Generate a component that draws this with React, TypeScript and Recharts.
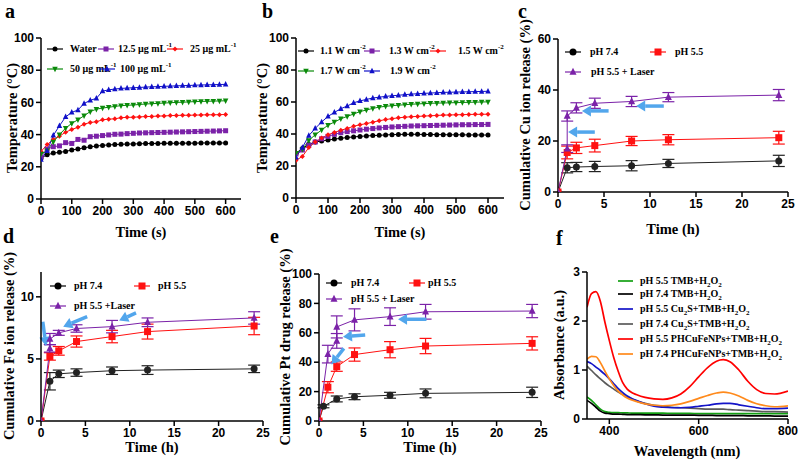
import React from 'react';
import { ComposedChart, Line, XAxis, YAxis, ErrorBar, ReferenceLine } from 'recharts';

const SERIF = '"Liberation Serif", "Times New Roman", serif';
const SANS = '"Liberation Sans", Arial, sans-serif';

// ---------- Panel a / b : temperature vs time ----------
const timeS = [0, 20, 40, 60, 80, 100, 120, 140, 160, 180, 200, 220, 240, 260, 280, 300, 320, 340, 360, 380, 400, 420, 440, 460, 480, 500, 520, 540, 560, 580, 600];
const aWater = [25.5, 27.5, 28.5, 29, 29.5, 30.5, 31, 31.8, 32.4, 32.9, 33.3, 33.6, 33.8, 34, 34.1, 34.2, 34.3, 34.4, 34.5, 34.5, 34.6, 34.6, 34.6, 34.7, 34.7, 34.7, 34.8, 34.8, 34.8, 34.8, 34.8];
const a12 = [26, 31, 32.5, 33, 35, 34.5, 37, 36.5, 38.7, 39, 39.4, 39.8, 40.2, 40.3, 40.6, 40.8, 41, 41.1, 41.2, 41.3, 41.4, 41.5, 41.6, 41.7, 41.8, 41.9, 42, 42.1, 42.2, 42.3, 42.4];
const a25 = [29.5, 33.8, 37, 39, 41.5, 43.2, 44.5, 46.5, 47.5, 48, 49.2, 49.6, 49.8, 50.5, 50.7, 50.8, 51, 51.2, 51.3, 51.5, 51.6, 51.8, 51.9, 52, 52, 52.1, 52.2, 52.3, 52.3, 52.4, 52.5];
const a50 = [28, 30, 35.5, 40, 44, 47, 49.2, 51.7, 54.3, 55.8, 56.5, 57, 57.5, 58, 58.2, 58.4, 58.7, 59, 59.2, 59.4, 59.6, 59.8, 60, 60.1, 60.3, 60.5, 60.6, 60.7, 60.8, 60.9, 61];
const a100 = [24.5, 30, 39.5, 45.5, 51, 53.8, 55.3, 59.3, 61.3, 62.5, 67, 67.8, 68.3, 68.7, 68.9, 69.1, 69.3, 69.5, 69.7, 69.8, 70, 70.1, 70.3, 70.4, 70.5, 70.7, 70.8, 70.9, 71, 71.1, 71.2];

const b11 = [28, 31, 33.5, 35, 35.6, 36.2, 36.8, 37.3, 37.8, 38.2, 38.5, 38.8, 39, 39.2, 39.4, 39.6, 39.7, 39.8, 39.8, 39.8, 39.7, 39.7, 39.6, 39.6, 39.5, 39.5, 39.5, 39.4, 39.4, 39.4, 39.3];
const b13 = [27.5, 30, 33, 35, 37, 38.5, 39.8, 40.8, 41.5, 42, 42.5, 43, 43.4, 43.8, 44.1, 44.4, 44.6, 44.8, 45, 45.1, 45.2, 45.3, 45.4, 45.5, 45.6, 45.7, 45.8, 45.8, 45.9, 45.9, 46];
const b15 = [23.5, 26, 31.5, 35, 37.5, 39.5, 41, 42.3, 43.5, 44.8, 45.8, 46.5, 47.4, 48.3, 49, 49.6, 50.1, 50.5, 50.8, 51, 51.2, 51.4, 51.6, 51.8, 51.9, 52, 52.1, 52.2, 52.3, 52.3, 52.4];
const b17 = [28, 30.5, 36, 39.5, 42.5, 45.5, 47.5, 49.5, 51, 52.5, 54, 55, 56, 56.8, 57.3, 57.7, 58, 58.3, 58.6, 58.8, 59, 59.2, 59.3, 59.4, 59.5, 59.6, 59.7, 59.8, 59.9, 60, 60.1];
const b19 = [25.5, 31.5, 39, 43.5, 47.5, 51, 53.5, 55.8, 57.5, 59.5, 60.7, 61.6, 62.5, 63, 63.5, 63.9, 64.2, 64.6, 64.9, 65.2, 65.4, 65.6, 65.8, 66, 66.1, 66.2, 66.3, 66.4, 66.5, 66.6, 66.7];

// ---------- Panel c : Cu release ----------
const cT = [0, 1, 2, 4, 8, 12, 24];
const c74 = [0, 9.5, 9.8, 10, 10.3, 11.2, 12.2];
const c74Err = [0, 2, 1.8, 2, 2, 1.6, 2.2];
const c55 = [0, 15.5, 17.3, 18.2, 20, 20.5, 21.3];
const c55Err = [0, 2.5, 2.2, 2.5, 1.8, 2, 2.5];
const cLaserT = [0, 1, 1, 2, 4, 8, 12, 24];
const cLaser = [0, 17, 29.8, 33, 34.8, 35.5, 37.2, 38];
const cLaserErr = [0, 1.5, 2, 2, 2, 2, 1.8, 2.2];

// ---------- Panel d : Fe release ----------
const dT = [0, 1, 2, 4, 8, 12, 24];
const d74 = [0, 3.2, 3.8, 3.9, 4.05, 4.1, 4.2];
const d74Err = [0, 0.7, 0.3, 0.3, 0.3, 0.35, 0.3];
const d55 = [0, 5.2, 5.65, 6.4, 6.8, 7.2, 7.65];
const d55Err = [0, 0.3, 0.35, 0.45, 0.5, 0.6, 0.7];
const dLaserT = [0, 1, 1, 2, 4, 8, 12, 24];
const dLaser = [0, 5.85, 6.6, 7.1, 7.45, 7.6, 7.95, 8.3];
const dLaserErr = [0, 0.3, 0.45, 0.2, 0.3, 0.5, 0.35, 0.5];

// ---------- Panel e : Pt release ----------
const eT74 = [0, 0.5, 2, 4, 8, 12, 24];
const e74 = [0, 10, 15, 16.5, 17.5, 18.8, 19.5];
const e74Err = [0, 1, 2, 2, 2, 3, 3.5];
const eT55 = [0, 1, 2, 4, 8, 12, 24];
const e55 = [0, 23, 37, 45.2, 48.5, 51, 52.8];
const e55Err = [0, 3.8, 3.2, 4.5, 5.5, 5.2, 4.5];
const eLaserT = [0, 1, 2, 2, 4, 8, 12, 24];
const eLaser = [0, 45.5, 54.5, 64, 68.8, 71, 74.3, 74.8];
const eLaserErr = [0, 6, 5, 7.5, 7.5, 6, 5, 4.5];

// ---------- Panel f : absorbance ----------
const fWl = [350, 360, 370, 380, 390, 400, 410, 420, 430, 440, 450, 460, 480, 500, 520, 540, 560, 580, 600, 620, 640, 655, 670, 690, 710, 730, 750, 770, 800];
const fRed = [2.28, 2.56, 2.6, 2.4, 1.98, 1.6, 1.25, 0.97, 0.74, 0.61, 0.54, 0.5, 0.44, 0.41, 0.4, 0.43, 0.51, 0.66, 0.86, 1.05, 1.18, 1.21, 1.17, 1.0, 0.77, 0.6, 0.52, 0.51, 0.57];
const fOrange = [1.22, 1.28, 1.27, 1.15, 0.98, 0.82, 0.68, 0.57, 0.49, 0.43, 0.39, 0.36, 0.31, 0.28, 0.27, 0.28, 0.31, 0.36, 0.42, 0.48, 0.53, 0.55, 0.53, 0.47, 0.38, 0.31, 0.27, 0.25, 0.27];
const fBlue = [1.17, 1.13, 1.06, 0.99, 0.91, 0.82, 0.72, 0.62, 0.54, 0.47, 0.42, 0.38, 0.31, 0.26, 0.24, 0.23, 0.23, 0.24, 0.26, 0.28, 0.31, 0.32, 0.32, 0.29, 0.26, 0.23, 0.21, 0.21, 0.22];
const fGrey = [1.08, 0.99, 0.9, 0.82, 0.74, 0.67, 0.61, 0.55, 0.5, 0.45, 0.41, 0.37, 0.32, 0.28, 0.26, 0.24, 0.23, 0.22, 0.21, 0.2, 0.2, 0.2, 0.19, 0.18, 0.17, 0.16, 0.15, 0.15, 0.14];
const fGreen = [0.45, 0.38, 0.29, 0.2, 0.15, 0.135, 0.13, 0.13, 0.125, 0.125, 0.12, 0.12, 0.12, 0.12, 0.12, 0.115, 0.115, 0.115, 0.11, 0.11, 0.11, 0.11, 0.11, 0.11, 0.11, 0.11, 0.11, 0.11, 0.11];
const fBlack = [0.38, 0.32, 0.24, 0.16, 0.12, 0.11, 0.1, 0.1, 0.095, 0.09, 0.09, 0.09, 0.085, 0.085, 0.08, 0.08, 0.08, 0.08, 0.075, 0.075, 0.07, 0.07, 0.07, 0.07, 0.065, 0.065, 0.065, 0.06, 0.06];

// ---------- Arrows (data coordinates: tail -> head) ----------
const cArrows = [[5.5, 31.8, 2.6, 31.8], [11.5, 33.7, 8.5, 33.7], [4.0, 23.5, 1.1, 23.5]];
const dArrows = [[0.2, 8.0, 0.56, 6.05], [5.2, 8.4, 2.5, 7.6], [10.7, 8.7, 8.8, 8.1]];
const eArrows = [[5.2, 58.5, 2.7, 57.3], [2.8, 49.4, 1.4, 38.5], [12.1, 69.2, 8.9, 69.2]];

const BLACK = '#000000';
const PURPLE = '#7b22a8';
const RED = '#ff1111';
const GREEN = '#0a8a0a';
const BLUE = '#1010c8';
const ARROW = '#52a6ec';

type Shape = 'circle' | 'square' | 'triUp' | 'triDown' | 'diamond';

function markerEl(shape: Shape, cx: number, cy: number, s: number, color: string, key?: string) {
  switch (shape) {
    case 'circle':
      return <circle key={key} cx={cx} cy={cy} r={s / 2} fill={color} />;
    case 'square':
      return <rect key={key} x={cx - s / 2} y={cy - s / 2} width={s} height={s} fill={color} />;
    case 'triUp':
      return <polygon key={key} points={`${cx},${cy - s * 0.6} ${cx - s / 2},${cy + s * 0.4} ${cx + s / 2},${cy + s * 0.4}`} fill={color} />;
    case 'triDown':
      return <polygon key={key} points={`${cx},${cy + s * 0.6} ${cx - s / 2},${cy - s * 0.4} ${cx + s / 2},${cy - s * 0.4}`} fill={color} />;
    case 'diamond':
      return <polygon key={key} points={`${cx},${cy - s / 2} ${cx + s / 2},${cy} ${cx},${cy + s / 2} ${cx - s / 2},${cy}`} fill={color} />;
  }
}

const dotFn = (shape: Shape, size: number, color: string) => (p: any) => {
  if (p.cx == null || p.cy == null || isNaN(p.cx) || isNaN(p.cy)) return <g key={`n${p.index}`} />;
  return markerEl(shape, p.cx, p.cy, size, color, `d${p.index}`) as any;
};

const toPts = (xs: number[], ys: number[], es?: number[]) =>
  xs.map((t, i) => ({ t, v: ys[i], e: es ? es[i] : 0 }));

const ArrowShape = (p: any) => {
  const { x1, y1, x2, y2 } = p;
  if ([x1, y1, x2, y2].some((v) => v == null || isNaN(v))) return <g />;
  const ang = Math.atan2(y2 - y1, x2 - x1);
  const hl = 9;
  const hw = 5.5;
  const bx = x2 - hl * Math.cos(ang);
  const by = y2 - hl * Math.sin(ang);
  const px = -Math.sin(ang);
  const py = Math.cos(ang);
  return (
    <g>
      <line x1={x1} y1={y1} x2={bx} y2={by} stroke={ARROW} strokeWidth={3.5} />
      <polygon points={`${x2},${y2} ${bx + px * hw},${by + py * hw} ${bx - px * hw},${by - py * hw}`} fill={ARROW} />
    </g>
  );
};

const tickStyle = { fontSize: 12, fontWeight: 'bold' as const, fontFamily: SANS, fill: '#000' };
const axisLineStyle = { stroke: '#000', strokeWidth: 1.5 };

function Frame(props: {
  rect: [number, number, number, number];
  xDomain: [number, number];
  xTicks: number[];
  yDomain: [number, number];
  yTicks: number[];
  children: React.ReactNode;
}) {
  const [x1, y1, x2, y2] = props.rect;
  const W = x2 - x1 + 70;
  const H = y2 - y1 + 50;
  return (
    <div style={{ position: 'absolute', left: x1 - 60, top: y1 - 10 }}>
      <ComposedChart width={W} height={H} margin={{ top: 10, right: 10, bottom: 0, left: 0 }}>
        <XAxis
          type="number"
          dataKey="t"
          domain={props.xDomain}
          ticks={props.xTicks}
          allowDataOverflow
          height={40}
          tick={tickStyle}
          tickSize={5}
          tickLine={axisLineStyle}
          axisLine={axisLineStyle}
          interval={0}
        />
        <XAxis xAxisId="top" orientation="top" type="number" domain={props.xDomain} allowDataOverflow height={0} tick={false} tickLine={false} axisLine={axisLineStyle} />
        <YAxis
          type="number"
          domain={props.yDomain}
          ticks={props.yTicks}
          allowDataOverflow
          width={60}
          tick={tickStyle}
          tickSize={5}
          tickLine={axisLineStyle}
          axisLine={axisLineStyle}
          interval={0}
        />
        <YAxis yAxisId="right" orientation="right" type="number" domain={props.yDomain} allowDataOverflow width={0} tick={false} tickLine={false} axisLine={axisLineStyle} />
        {props.children}
      </ComposedChart>
    </div>
  );
}

function series(key: string, xs: number[], ys: number[], color: string, shape: Shape, size: number, es?: number[], sw = 1) {
  return (
    <Line
      key={key}
      data={toPts(xs, ys, es)}
      dataKey="v"
      type="linear"
      stroke={color}
      strokeWidth={sw}
      dot={dotFn(shape, size, color)}
      activeDot={false}
      isAnimationActive={false}
    >
      {es ? <ErrorBar dataKey="e" width={6} stroke={color} strokeWidth={1.2} direction="y" /> : null}
    </Line>
  );
}

function curve(key: string, ys: number[], color: string) {
  return (
    <Line
      key={key}
      data={toPts(fWl, ys)}
      dataKey="v"
      type="monotone"
      stroke={color}
      strokeWidth={1.7}
      dot={false}
      activeDot={false}
      isAnimationActive={false}
    />
  );
}

function arrows(list: number[][], prefix: string) {
  return list.map((a, i) => (
    <ReferenceLine
      key={`${prefix}${i}`}
      segment={[{ x: a[0], y: a[1] }, { x: a[2], y: a[3] }]}
      ifOverflow="visible"
      shape={ArrowShape}
    />
  ));
}

function LegItem(props: { x: number; y: number; w?: number; color: string; shape?: Shape; size?: number; tx: number; sw?: number; children: React.ReactNode }) {
  const w = props.w ?? 16;
  return (
    <>
      <svg style={{ position: 'absolute', left: props.x, top: props.y - 6, overflow: 'visible' }} width={w} height={12}>
        <line x1={0} y1={6} x2={w} y2={6} stroke={props.color} strokeWidth={props.sw ?? 1.2} />
        {props.shape ? markerEl(props.shape, w / 2, 6, props.size ?? 6, props.color) : null}
      </svg>
      <div
        style={{
          position: 'absolute',
          left: props.tx,
          top: props.y - 7,
          fontFamily: SERIF,
          fontWeight: 'bold',
          fontSize: 10,
          lineHeight: '14px',
          whiteSpace: 'nowrap',
          color: '#000',
        }}
      >
        {props.children}
      </div>
    </>
  );
}

const Sup = ({ children }: { children: React.ReactNode }) => (
  <span style={{ fontSize: 7, verticalAlign: 'top', lineHeight: '8px', position: 'relative', top: -1 }}>{children}</span>
);
const Sub = ({ children }: { children: React.ReactNode }) => (
  <span style={{ fontSize: 7, position: 'relative', top: 3, lineHeight: 0 }}>{children}</span>
);

function Title(props: { x: number; y: number; rotate?: boolean; size?: number; children: React.ReactNode }) {
  return (
    <div
      style={{
        position: 'absolute',
        left: props.x,
        top: props.y,
        transform: `translate(-50%, -50%)${props.rotate ? ' rotate(-90deg)' : ''}`,
        fontFamily: SERIF,
        fontWeight: 'bold',
        fontSize: props.size ?? 14.5,
        whiteSpace: 'nowrap',
        lineHeight: 1,
        color: '#000',
      }}
    >
      {props.children}
    </div>
  );
}

function Letter(props: { x: number; y: number; children: React.ReactNode }) {
  return (
    <div style={{ position: 'absolute', left: props.x, top: props.y, fontFamily: SERIF, fontWeight: 'bold', fontSize: 20, lineHeight: '20px', color: '#000' }}>
      {props.children}
    </div>
  );
}

export default function App() {
  const tTicks = [0, 100, 200, 300, 400, 500, 600];
  const hTicks = [0, 5, 10, 15, 20, 25];
  return (
    <div style={{ position: 'absolute', left: 0, top: 0, width: 798, height: 465, background: '#fff', overflow: 'hidden' }}>
      {/* Panel a */}
      <Frame rect={[41, 38, 241, 199]} xDomain={[0, 650]} xTicks={tTicks} yDomain={[0, 100]} yTicks={[0, 20, 40, 60, 80, 100]}>
        {series('aW', timeS, aWater, BLACK, 'circle', 5)}
        {series('a12', timeS, a12, PURPLE, 'square', 5)}
        {series('a25', timeS, a25, RED, 'diamond', 5)}
        {series('a50', timeS, a50, GREEN, 'triDown', 5.5)}
        {series('a100', timeS, a100, BLUE, 'triUp', 5.5)}
      </Frame>
      {/* Panel b */}
      <Frame rect={[296, 38, 504, 198]} xDomain={[0, 650]} xTicks={tTicks} yDomain={[0, 100]} yTicks={[0, 20, 40, 60, 80, 100]}>
        {series('b11', timeS, b11, BLACK, 'circle', 5)}
        {series('b13', timeS, b13, PURPLE, 'square', 5)}
        {series('b15', timeS, b15, RED, 'diamond', 5)}
        {series('b17', timeS, b17, GREEN, 'triDown', 5.5)}
        {series('b19', timeS, b19, BLUE, 'triUp', 5.5)}
      </Frame>
      {/* Panel c */}
      <Frame rect={[558, 39, 788, 192]} xDomain={[0, 25]} xTicks={hTicks} yDomain={[0, 60]} yTicks={[0, 20, 40, 60]}>
        {series('c74', cT, c74, '#222', 'circle', 7, c74Err)}
        {series('c55', cT, c55, RED, 'square', 7, c55Err)}
        {series('cL', cLaserT, cLaser, PURPLE, 'triUp', 7, cLaserErr)}
        {arrows(cArrows, 'ca')}
      </Frame>
      {/* Panel d */}
      <Frame rect={[41, 272, 263, 421]} xDomain={[0, 25]} xTicks={hTicks} yDomain={[0, 12]} yTicks={[0, 5, 10]}>
        {series('d74', dT, d74, '#222', 'circle', 7, d74Err)}
        {series('d55', dT, d55, RED, 'square', 7, d55Err)}
        {series('dL', dLaserT, dLaser, PURPLE, 'triUp', 7, dLaserErr)}
        {arrows(dArrows, 'da')}
      </Frame>
      {/* Panel e */}
      <Frame rect={[319, 274, 541, 421]} xDomain={[0, 25]} xTicks={hTicks} yDomain={[0, 100]} yTicks={[0, 20, 40, 60, 80, 100]}>
        {series('e74', eT74, e74, '#222', 'circle', 7, e74Err)}
        {series('e55', eT55, e55, RED, 'square', 7, e55Err)}
        {series('eL', eLaserT, eLaser, PURPLE, 'triUp', 7, eLaserErr)}
        {arrows(eArrows, 'ea')}
      </Frame>
      {/* Panel f */}
      <Frame rect={[587, 272, 788, 419]} xDomain={[350, 800]} xTicks={[400, 600, 800]} yDomain={[0, 3]} yTicks={[0, 1, 2, 3]}>
        {curve('fG', fGreen, '#13a013')}
        {curve('fK', fBlack, '#000')}
        {curve('fGr', fGrey, '#5a5a5a')}
        {curve('fB', fBlue, '#1414c8')}
        {curve('fO', fOrange, '#ff8a1c')}
        {curve('fR', fRed, '#ff0000')}
      </Frame>

      {/* Legends a */}
      <LegItem x={47} y={49} color={BLACK} shape="circle" size={5} tx={70}>Water</LegItem>
      <LegItem x={98} y={49} color={PURPLE} shape="square" size={5} tx={118}>12.5 μg mL<Sup>-1</Sup></LegItem>
      <LegItem x={167} y={49} color={RED} shape="diamond" size={5} tx={190}>25 μg mL<Sup>-1</Sup></LegItem>
      <LegItem x={47} y={69} color={GREEN} shape="triDown" size={5.5} tx={70}>50 μg mL<Sup>-1</Sup></LegItem>
      <LegItem x={99} y={69} color={BLUE} shape="triUp" size={5.5} tx={120}>100 μg mL<Sup>-1</Sup></LegItem>

      {/* Legends b */}
      <LegItem x={298} y={51} color={BLACK} shape="circle" size={5} tx={320}>1.1 W cm<Sup>-2</Sup></LegItem>
      <LegItem x={364} y={51} color={PURPLE} shape="square" size={5} tx={389}>1.3 W cm<Sup>-2</Sup></LegItem>
      <LegItem x={430} y={51} color={RED} shape="diamond" size={5} tx={458}>1.5 W cm<Sup>-2</Sup></LegItem>
      <LegItem x={298} y={71} color={GREEN} shape="triDown" size={5.5} tx={320}>1.7 W cm<Sup>-2</Sup></LegItem>
      <LegItem x={364} y={71} color={BLUE} shape="triUp" size={5.5} tx={390}>1.9 W cm<Sup>-2</Sup></LegItem>

      {/* Legends c */}
      <LegItem x={565} y={52} color={BLACK} shape="circle" size={7} tx={590}>pH 7.4</LegItem>
      <LegItem x={650} y={52} color={RED} shape="square" size={7} tx={675}>pH 5.5</LegItem>
      <LegItem x={565} y={72} color={PURPLE} shape="triUp" size={7} tx={591}>pH 5.5 + Laser</LegItem>

      {/* Legends d */}
      <LegItem x={50} y={286} color={BLACK} shape="circle" size={7} tx={74}>pH 7.4</LegItem>
      <LegItem x={134} y={286} color={RED} shape="square" size={7} tx={158}>pH 5.5</LegItem>
      <LegItem x={50} y={306} color={PURPLE} shape="triUp" size={7} tx={74}>pH 5.5 +Laser</LegItem>

      {/* Legends e */}
      <LegItem x={326} y={283} color={BLACK} shape="circle" size={7} tx={351}>pH 7.4</LegItem>
      <LegItem x={409} y={283} color={RED} shape="square" size={7} tx={428}>pH 5.5</LegItem>
      <LegItem x={326} y={299} color={PURPLE} shape="triUp" size={7} tx={351}>pH 5.5 + Laser</LegItem>

      {/* Legends f */}
      <LegItem x={618} y={281} w={15} sw={1.7} color="#13a013" tx={640}>pH 5.5 TMB+H<Sub>2</Sub>O<Sub>2</Sub></LegItem>
      <LegItem x={618} y={294} w={15} sw={1.7} color="#000" tx={640}>pH 7.4 TMB+H<Sub>2</Sub>O<Sub>2</Sub></LegItem>
      <LegItem x={618} y={309} w={15} sw={1.7} color="#1414c8" tx={640}>pH 5.5 Cu<Sub>2</Sub>S+TMB+H<Sub>2</Sub>O<Sub>2</Sub></LegItem>
      <LegItem x={618} y={324} w={15} sw={1.7} color="#5a5a5a" tx={640}>pH 7.4 Cu<Sub>2</Sub>S+TMB+H<Sub>2</Sub>O<Sub>2</Sub></LegItem>
      <LegItem x={618} y={339} w={15} sw={1.7} color="#ff0000" tx={640}>pH 5.5 PHCuFeNPs+TMB+H<Sub>2</Sub>O<Sub>2</Sub></LegItem>
      <LegItem x={618} y={354} w={15} sw={1.7} color="#ff8a1c" tx={640}>pH 7.4 PHCuFeNPs+TMB+H<Sub>2</Sub>O<Sub>2</Sub></LegItem>

      {/* Axis titles */}
      <Title x={12} y={118} rotate>Temperature (°C)</Title>
      <Title x={141} y={232}>Time (s)</Title>
      <Title x={262} y={118} rotate>Temperature (°C)</Title>
      <Title x={400} y={232}>Time (s)</Title>
      <Title x={525} y={115} rotate>Cumulative Cu ion release (%)</Title>
      <Title x={673} y={229}>Time (h)</Title>
      <Title x={9} y={346} rotate>Cumulative Fe ion release (%)</Title>
      <Title x={152} y={447}>Time (h)</Title>
      <Title x={285} y={347} rotate>Cumulative Pt drug release (%)</Title>
      <Title x={430} y={447}>Time (h)</Title>
      <Title x={559} y={345} rotate>Absorbance (a.u.)</Title>
      <Title x={687} y={451}>Wavelength (nm)</Title>

      {/* Panel letters */}
      <Letter x={5} y={1}>a</Letter>
      <Letter x={262} y={1}>b</Letter>
      <Letter x={518} y={1}>c</Letter>
      <Letter x={3} y={226}>d</Letter>
      <Letter x={270} y={226}>e</Letter>
      <Letter x={556} y={228}>f</Letter>
    </div>
  );
}
